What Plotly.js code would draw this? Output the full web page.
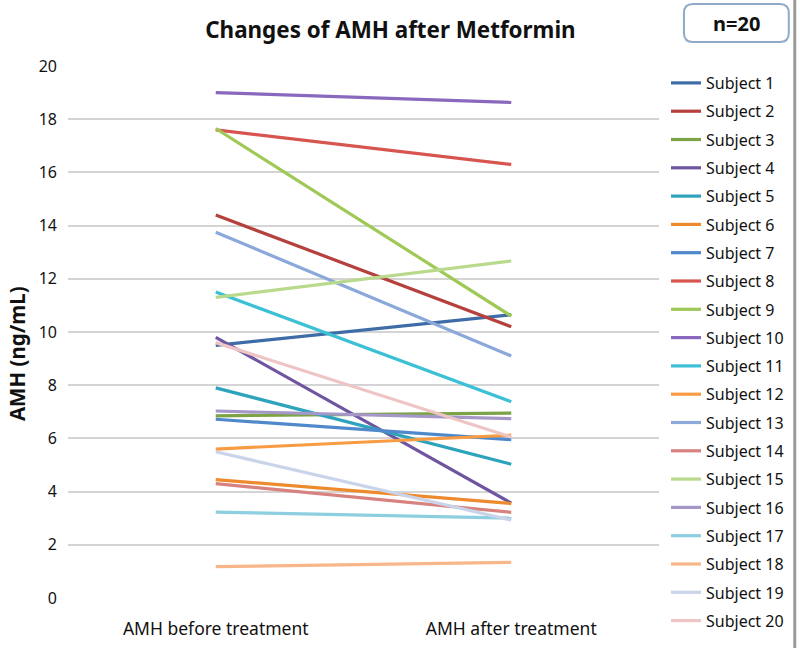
<!DOCTYPE html>
<html>
<head>
<meta charset="utf-8">
<script src="https://cdn.plot.ly/plotly-3.0.1.min.js"></script>
<style>html,body{margin:0;padding:0;background:#fff;}#chart{width:800px;height:648px;}</style>
</head>
<body>
<div id="chart"></div>
<script>
const categories = ["AMH before treatment", "AMH after treatment"];
const subjects = ["Subject 1","Subject 2","Subject 3","Subject 4","Subject 5","Subject 6","Subject 7","Subject 8","Subject 9","Subject 10","Subject 11","Subject 12","Subject 13","Subject 14","Subject 15","Subject 16","Subject 17","Subject 18","Subject 19","Subject 20"];
const beforeValues = [9.5, 14.4, 6.85, 9.8, 7.9, 4.45, 6.72, 17.6, 17.65, 19.0, 11.5, 5.6, 13.75, 4.3, 11.3, 7.03, 3.23, 1.18, 5.5, 9.6];
const afterValues  = [10.65, 10.2, 6.95, 3.57, 5.03, 3.55, 5.95, 16.3, 10.6, 18.63, 7.38, 6.12, 9.1, 3.22, 12.67, 6.74, 3.0, 1.34, 2.93, 6.05];
const colors = ["#3D6CA6","#B5403C","#7DA347","#6E55A0","#2EA3BC","#EE8A2E","#4F89CC","#D8554F","#9FC956","#8A68BE","#3CC0D6","#F89B42","#8AA8DA","#D8827F","#B9DA8C","#A697C9","#8DCFE0","#F7B68A","#C9D4EA","#EEC4C4"];

const traces = subjects.map((name, i) => ({
  type: "scatter",
  mode: "lines",
  name: name,
  legendgroup: "g" + i,
  x: categories,
  y: [beforeValues[i], afterValues[i]],
  line: {color: colors[i], width: 3.2},
  hoverinfo: "name+y"
}));

// pixel -> paper helpers for decorations
const M = {l: 68, r: 140, t: 66, b: 50}, W = 800, H = 648;
const pw = W - M.l - M.r, ph = H - M.t - M.b;
const px = v => (v - M.l) / pw;
const py = v => (H - M.b - v) / ph;
function roundRect(x0, y0, x1, y1, r) {
  const X = px, Y = py;
  return `M${X(x0 + r)},${Y(y0)} L${X(x1 - r)},${Y(y0)} Q${X(x1)},${Y(y0)} ${X(x1)},${Y(y0 + r)} ` +
         `L${X(x1)},${Y(y1 - r)} Q${X(x1)},${Y(y1)} ${X(x1 - r)},${Y(y1)} ` +
         `L${X(x0 + r)},${Y(y1)} Q${X(x0)},${Y(y1)} ${X(x0)},${Y(y1 - r)} ` +
         `L${X(x0)},${Y(y0 + r)} Q${X(x0)},${Y(y0)} ${X(x0 + r)},${Y(y0)} Z`;
}

const font = "Noto Sans, DejaVu Sans, sans-serif";
const layout = {
  width: W, height: H,
  margin: M,
  paper_bgcolor: "#fff", plot_bgcolor: "#fff",
  font: {family: font, size: 14, color: "#000"},
  title: {text: "<b>Changes of AMH after Metformin</b>", x: px(391), xref: "paper", xanchor: "center", y: 1 - 30 / H, yanchor: "middle", font: {family: font, size: 22.4, color: "#111"}},
  xaxis: {type: "category", showgrid: false, zeroline: false, showline: false, ticks: "", tickfont: {size: 17.5, color: "#111"}, range: [-0.5, 1.5], ticklabelstandoff: 18},
  yaxis: {range: [0, 20], dtick: 2, showgrid: true, gridcolor: "#d4d4d4", gridwidth: 2, zeroline: false, showline: false, ticks: "", tickfont: {size: 16, color: "#111"}, ticklabelstandoff: 10},
  showlegend: true,
  legend: {x: px(666), xanchor: "left", y: py(66), yanchor: "top", font: {size: 16, family: font, color: "#111"}, tracegroupgap: 4.5, bgcolor: "rgba(0,0,0,0)", itemwidth: 30, maxheight: 640},
  shapes: [
    {type: "path", xref: "paper", yref: "paper", path: roundRect(685, 4, 790, 42, 9),
     line: {color: "#8FA9C8", width: 2}, fillcolor: "#fff"},
    {type: "line", xref: "paper", yref: "paper", x0: px(796), x1: px(796), y0: py(648), y1: py(0), line: {color: "#9a9a9a", width: 3}}
  ],
  annotations: [
    {xref: "paper", yref: "paper", x: px(738), y: py(23), text: "<b>n=20</b>", showarrow: false, font: {size: 20, family: font, color: "#111"}, xanchor: "center", yanchor: "middle"},
    {xref: "paper", yref: "paper", x: px(17), y: py(354), text: "<b>AMH (ng/mL)</b>", textangle: -90, showarrow: false, font: {size: 20.5, family: font, color: "#111"}, xanchor: "center", yanchor: "middle"}
  ]
};
Plotly.newPlot("chart", traces, layout, {displayModeBar: false, staticPlot: true});
</script>
</body>
</html>
